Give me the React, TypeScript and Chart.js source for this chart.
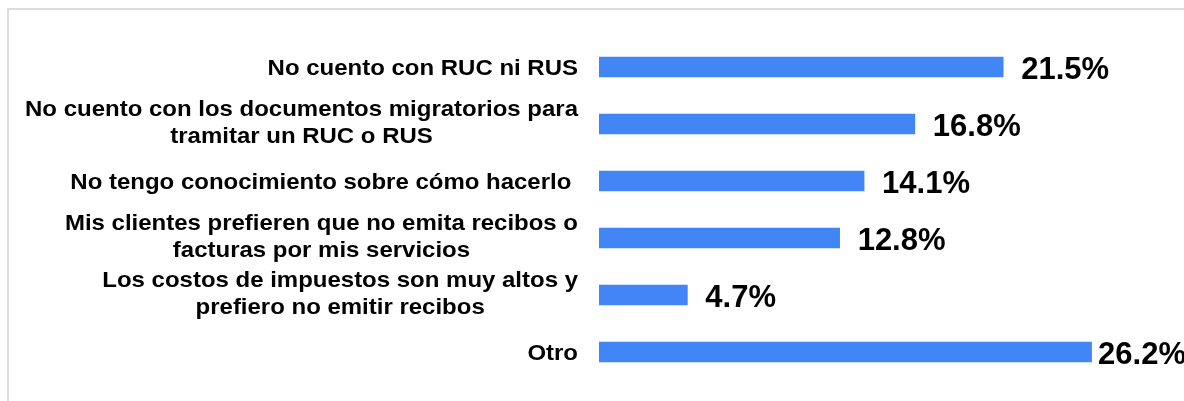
import React, { useEffect, useRef } from "react";
import { Chart, registerables } from "chart.js";

Chart.register(...registerables);

const categories: string[][] = [
  ["No cuento con RUC ni RUS"],
  ["No cuento con los documentos migratorios para", "tramitar un RUC o RUS"],
  ["No tengo conocimiento sobre cómo hacerlo "],
  ["Mis clientes prefieren que no emita recibos o", "facturas por mis servicios"],
  ["Los costos de impuestos son muy altos y", "prefiero no emitir recibos"],
  ["Otro"],
];

const values: number[] = [21.5, 16.8, 14.1, 12.8, 4.7, 26.2];

const valueLabels: string[] = ["21.5%", "16.8%", "14.1%", "12.8%", "4.7%", "26.2%"];

const BAR_COLOR = "#4285f4";
const FONT = '"Liberation Sans", Arial, sans-serif';
const LABEL_SIZE = 22;
const LABEL_STRETCH = 1.09;
const VALUE_SIZE = 31;

const labelPlugin = {
  id: "customLabels",
  afterDatasetsDraw(chart: any) {
    const ctx = chart.ctx as CanvasRenderingContext2D;
    const meta = chart.getDatasetMeta(0);
    const area = chart.chartArea;
    ctx.save();
    ctx.fillStyle = "#000";
    ctx.textBaseline = "alphabetic";

    // category labels
    ctx.font = `bold ${LABEL_SIZE}px ${FONT}`;
    const right = area.left - 21;
    categories.forEach((lines, i) => {
      const el = meta.data[i];
      if (!el) return;
      const cy = el.y;
      const n = lines.length;
      const maxW = Math.max(...lines.map((l) => ctx.measureText(l).width * LABEL_STRETCH));
      lines.forEach((line, j) => {
        const base = cy + 8 + (j - (n - 1) / 2) * 27.6 - 2.5 * (n - 1);
        ctx.save();
        if (n === 1) {
          ctx.translate(right, base);
          ctx.textAlign = "right";
        } else {
          ctx.translate(right - maxW / 2, base);
          ctx.textAlign = "center";
        }
        ctx.scale(LABEL_STRETCH, 1);
        ctx.fillText(line, 0, 0);
        ctx.restore();
      });
    });

    // value labels
    ctx.font = `bold ${VALUE_SIZE}px ${FONT}`;
    ctx.textAlign = "left";
    valueLabels.forEach((txt, i) => {
      const el = meta.data[i];
      if (!el) return;
      const w = ctx.measureText(txt).width;
      let x = el.x + 18;
      const limit = chart.width + 2;
      if (x + w > limit) x = Math.max(el.x + 5, limit - w);
      ctx.fillText(txt, x, el.y + 11.5);
    });
    ctx.restore();
  },
};

export default function App() {
  const canvasRef = useRef<HTMLCanvasElement | null>(null);

  useEffect(() => {
    if (!canvasRef.current) return;
    const chart = new Chart(canvasRef.current, {
      type: "bar",
      data: {
        labels: categories,
        datasets: [
          {
            data: values,
            backgroundColor: BAR_COLOR,
            borderWidth: 0,
            barThickness: 20,
          },
        ],
      },
      options: {
        indexAxis: "y",
        responsive: false,
        animation: false,
        devicePixelRatio: 1,
        layout: {
          padding: { left: 599, right: 21, top: 38.5, bottom: 20.5 },
        },
        scales: {
          x: { display: false, min: 0, max: 30 },
          y: { display: false },
        },
        plugins: {
          legend: { display: false },
          tooltip: { enabled: false },
        },
      },
      plugins: [labelPlugin],
    });
    return () => chart.destroy();
  }, []);

  return (
    <div
      style={{
        position: "fixed",
        left: 0,
        top: 0,
        width: 1184,
        height: 401,
        background: "#fff",
        overflow: "hidden",
      }}
    >
      <canvas
        ref={canvasRef}
        width={1184}
        height={401}
        style={{ position: "absolute", left: 0, top: 0 }}
      />
      <div
        style={{
          position: "absolute",
          left: 7,
          top: 8,
          width: 1177,
          height: 393,
          boxSizing: "border-box",
          borderTop: "2px solid #dcdcdc",
          borderLeft: "2px solid #dcdcdc",
          pointerEvents: "none",
        }}
      />
    </div>
  );
}
